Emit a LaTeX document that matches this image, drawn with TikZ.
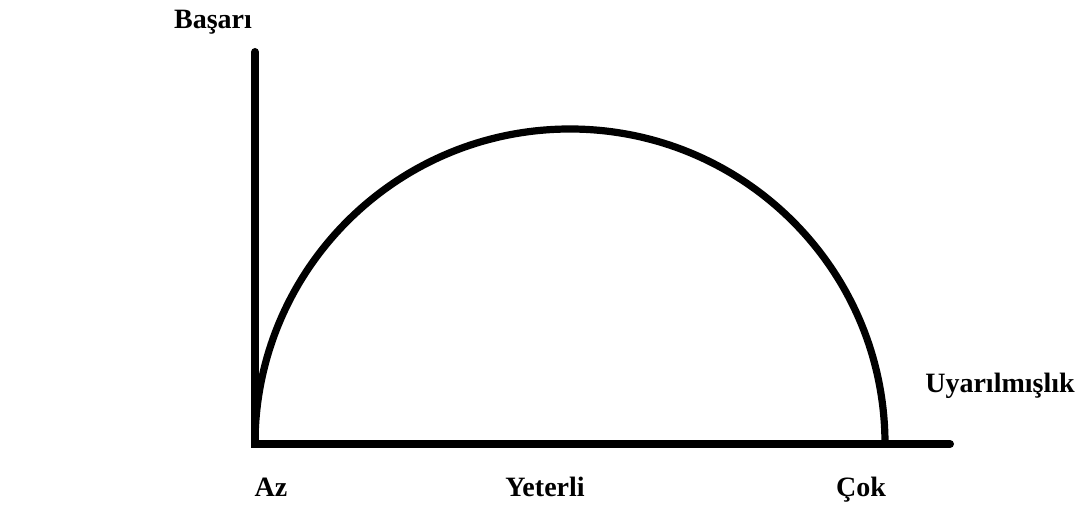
\documentclass[tikz,border=0pt]{standalone}
\usepackage{fontspec}
\setmainfont{Liberation Serif}
\usetikzlibrary{positioning}

\begin{document}
\begin{tikzpicture}[
  x=0.5pt, y=-0.5pt,
  axis/.style={line width=4pt, line cap=round},
  curve/.style={line width=3.6pt},
  lbl/.style={anchor=base, inner sep=0pt, font=\fontsize{14}{16}\selectfont\bfseries}
]
\useasboundingbox (0,0) rectangle (1083,507);
\coordinate (top) at (255,52);
\coordinate (origin) at (255,444);
\coordinate (xend) at (950,444);
% axes
\draw[axis] (top) -- (origin) -- (xend);
% curve
\draw[curve] (origin) arc[start angle=180, end angle=0, radius=157.5pt];
% labels
\node[lbl] (basari) at (213,29) {Başarı};
\node[lbl] (uyar) at (1000,393) {Uyarılmışlık};
\node[lbl] (az) at (271,497) {Az};
\node[lbl] (yeterli) at (545,497) {Yeterli};
\node[lbl] (cok) at (861,497) {Çok};
\end{tikzpicture}
\end{document}
